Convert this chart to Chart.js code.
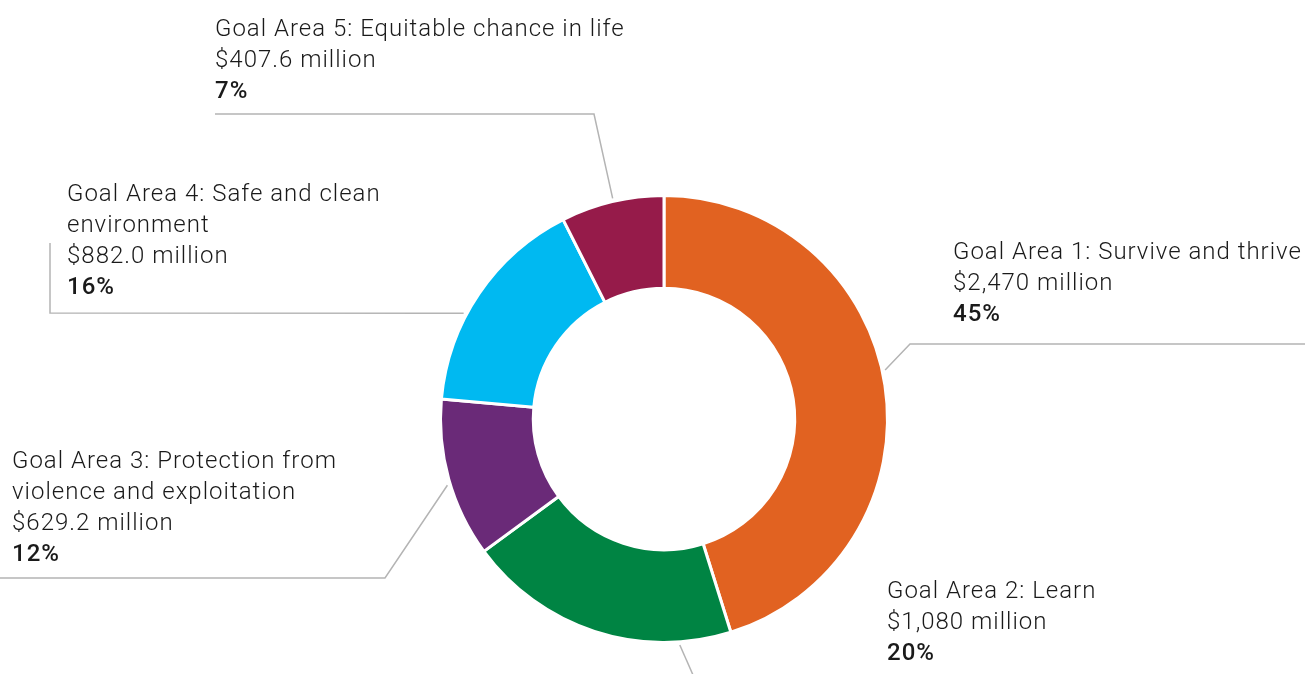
<!DOCTYPE html>
<html>
<head>
<meta charset="utf-8">
<script src="https://cdn.jsdelivr.net/npm/chart.js@4/dist/chart.umd.min.js"></script>
<style>
  html, body { margin: 0; padding: 0; background: #ffffff; }
  #wrap { position: relative; width: 1308px; height: 674px; }
</style>
</head>
<body>
<div id="wrap"><canvas id="c" width="1308" height="674"></canvas></div>
<script>
// ---- Data ----
const categories = [
  ["Goal Area 1: Survive and thrive"],
  ["Goal Area 2: Learn"],
  ["Goal Area 3: Protection from", "violence and exploitation"],
  ["Goal Area 4: Safe and clean", "environment"],
  ["Goal Area 5: Equitable chance in life"]
];
const valuesMillion = [2470, 1080, 629.2, 882.0, 407.6];
const colors = ["#E16221", "#008443", "#6A2A78", "#00B9F1", "#961B4A"];

// ---- Label layout (positions only) ----
const labelLayout = [
  { x: 953, y: 253, leaderAngle: -12.5, path: [[910, 344], [1305, 344]] },
  { x: 887, y: 592, leaderAngle: 86, path: [[697, 684]] },
  { x: 12,  y: 462, leaderAngle: 163, path: [[385, 578], [0, 578]] },
  { x: 67,  y: 195, leaderAngle: 207.8, path: [[50, 313], [50, 243]] },
  { x: 215, y: 30,  leaderAngle: 256.9, path: [[594, 114], [215, 114]] }
];

function fmtAmount(v) {
  if (v >= 1000) return "$" + Math.round(v).toLocaleString("en-US") + " million";
  return "$" + v.toFixed(1) + " million";
}

const labelPlugin = {
  id: "leaderLabels",
  afterDatasetsDraw(chart) {
    const ctx = chart.ctx;
    const meta = chart.getDatasetMeta(0);
    const total = valuesMillion.reduce((a, b) => a + b, 0);
    const lh = 31;
    meta.data.forEach((arc, i) => {
      const L = labelLayout[i];
      const a = L.leaderAngle * Math.PI / 180;
      const r = arc.outerRadius + 3;
      const sx = arc.x + Math.cos(a) * r;
      const sy = arc.y + Math.sin(a) * r;
      ctx.save();
      ctx.strokeStyle = "#b4b4b4";
      ctx.lineWidth = 1.5;
      ctx.beginPath();
      ctx.moveTo(sx, sy);
      L.path.forEach(p => ctx.lineTo(p[0], p[1]));
      ctx.stroke();

      ctx.fillStyle = "#1a1a1a";
      ctx.textBaseline = "middle";
      ctx.textAlign = "left";
      ctx.letterSpacing = "1px";
      let y = L.y;
      ctx.font = "300 24px Roboto";
      categories[i].forEach(line => { ctx.fillText(line, L.x, y); y += lh; });
      ctx.fillText(fmtAmount(valuesMillion[i]), L.x, y); y += lh;
      ctx.font = "500 24px Roboto";
      ctx.fillText(Math.round(valuesMillion[i] / total * 100) + "%", L.x, y);
      ctx.restore();
    });
  }
};

new Chart(document.getElementById("c"), {
  type: "doughnut",
  data: {
    labels: categories.map(c => c.join(" ")),
    datasets: [{
      data: valuesMillion,
      backgroundColor: colors,
      borderColor: "#ffffff",
      borderWidth: 3,
      hoverOffset: 0
    }]
  },
  options: {
    responsive: false,
    animation: false,
    cutout: "58.5%",
    layout: { padding: { top: 194, bottom: 30, left: 20, right: 0 } },
    plugins: {
      legend: { display: false },
      tooltip: { enabled: false }
    }
  },
  plugins: [labelPlugin]
});
</script>
</body>
</html>
